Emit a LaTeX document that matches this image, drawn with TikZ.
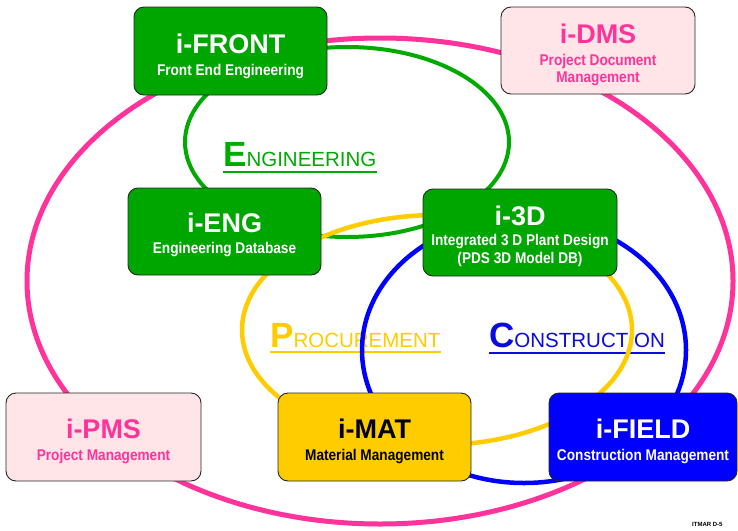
\documentclass[tikz,border=0pt]{standalone}
\usepackage{fontspec}
\setmainfont{Liberation Sans}
\newfontfamily\subf[FakeStretch=0.88]{Liberation Sans}
\definecolor{gfill}{RGB}{0,166,0}
\definecolor{gline}{RGB}{0,170,0}
\definecolor{pinkl}{RGB}{255,51,153}
\definecolor{pinkf}{RGB}{255,228,232}
\definecolor{yel}{RGB}{255,204,0}
\definecolor{blu}{RGB}{0,0,255}
\definecolor{blut}{RGB}{10,10,225}
\begin{document}
\begin{tikzpicture}[x=1pt,y=-1pt,
  box/.style={draw=black!85, line width=0.9pt, rounded corners=10pt, inner sep=0pt},
  ttl/.style={anchor=base, inner sep=0pt, font=\fontsize{27}{27}\selectfont\bfseries},
  sub/.style={anchor=base, inner sep=0pt, font=\subf\fontsize{15.5}{15.5}\selectfont\bfseries},
  lbl/.style={anchor=base west, inner sep=0pt, font=\fontsize{20.5}{20.5}\selectfont},
  ring/.style={line width=4.5pt}
]
\newcommand\bigini[1]{{\fontsize{35}{35}\selectfont\bfseries #1}}
\useasboundingbox (0,0) rectangle (738,530);
\fill[white] (0,0) rectangle (738,530);

% section labels (drawn under the rings)
\node[lbl, text=gline] (englbl) at (223,166) {\bigini{E}NGINEERING};
\node[lbl, text=yel] (prolbl) at (270,347) {\bigini{P}ROCUREMENT};
\node[lbl, text=blut] (conlbl) at (489,347) {\bigini{C}ONSTRUCTION};
\draw[gline, line width=2pt] ([yshift=-6pt]englbl.base west) -- ([yshift=-6pt]englbl.base east);
\draw[yel, line width=2pt] ([yshift=-5pt]prolbl.base west) -- ([yshift=-5pt]prolbl.base east);
\draw[blut, line width=2pt] ([yshift=-6pt]conlbl.base west) -- ([yshift=-6pt]conlbl.base east);

% rings
\draw[ring, gline, line width=4pt] (347,142) ellipse [x radius=162pt, y radius=95pt];
\draw[ring, yel] (437,330) ellipse [x radius=195pt, y radius=115pt];
\draw[ring, blu] (524,350) ellipse [x radius=162pt, y radius=133pt];
\draw[ring, pinkl, line width=5pt] (380,281) ellipse [x radius=353pt, y radius=243pt];

% boxes
\node[box, fill=gfill, minimum width=193pt, minimum height=88pt] (front) at (230.5,51) {};
\node[ttl, text=white] (frontT) at (230.5,53) {i-FRONT};
\node[sub, text=white] (frontS) at (230.5,75) {Front End Engineering};

\node[box, fill=pinkf, minimum width=194pt, minimum height=87pt] (dms) at (598,50.5) {};
\node[ttl, text=pinkl] (dmsT) at (598,43) {i-DMS};
\node[sub, text=pinkl] (dmsS1) at (598,65) {Project Document};
\node[sub, text=pinkl] (dmsS2) at (598,82) {Management};

\node[box, fill=gfill, minimum width=193pt, minimum height=87pt] (eng) at (224.5,231.5) {};
\node[ttl, text=white] (engT) at (224.5,232) {i-ENG};
\node[sub, text=white] (engS) at (224.5,253) {Engineering Database};

\node[box, fill=gfill, minimum width=194pt, minimum height=87pt] (tri) at (520,232.5) {};
\node[ttl, text=white] (triT) at (520,225) {i-3D};
\node[sub, text=white] (triS1) at (520,245) {Integrated 3 D Plant Design};
\node[sub, text=white] (triS2) at (520,263) {(PDS 3D Model DB)};

\node[box, fill=pinkf, minimum width=195pt, minimum height=88pt] (pms) at (103.5,437) {};
\node[ttl, text=pinkl] (pmsT) at (103.5,438) {i-PMS};
\node[sub, text=pinkl] (pmsS) at (103.5,460) {Project Management};

\node[box, fill=yel, minimum width=193pt, minimum height=88pt] (mat) at (374.5,437) {};
\node[ttl, text=black] (matT) at (374.5,438) {i-MAT};
\node[sub, text=black] (matS) at (374.5,460) {Material Management};

\node[box, fill=blu, minimum width=188pt, minimum height=88pt] (field) at (643,437) {};
\node[ttl, text=white] (fieldT) at (643,438) {i-FIELD};
\node[sub, text=white] (fieldS) at (643,460) {Construction Management};

\node[anchor=north west, inner sep=0pt, font=\fontsize{6}{6}\selectfont\bfseries] (ref) at (692,522.5) {ITMAR D-5};
\end{tikzpicture}
\end{document}
